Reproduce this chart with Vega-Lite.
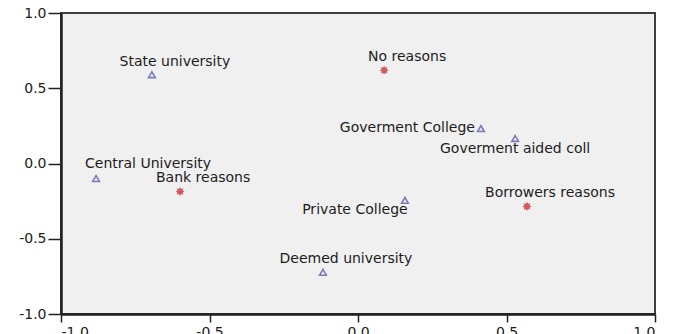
{
  "$schema": "https://vega.github.io/schema/vega-lite/v6.json",
  "width": 594,
  "height": 301,
  "autosize": {"type": "none"},
  "padding": {"left": 61, "top": 13, "right": 30, "bottom": 20},
  "background": "white",
  "config": {
    "view": {"fill": "#f0f0f0", "stroke": "#404040", "strokeWidth": 2},
    "axis": {
      "grid": false,
      "domainColor": "#202020",
      "domainWidth": 2.5,
      "tickColor": "#202020",
      "tickWidth": 1.5,
      "labelFont": "DejaVu Sans",
      "labelFontSize": 14,
      "labelColor": "#202020",
      "title": null
    },
    "text": {"font": "DejaVu Sans", "fontSize": 14, "color": "#1c1c1c"}
  },
  "data": {
    "values": [
      {"name": "State university", "kind": "institution", "d1": -0.694, "d2": 0.59},
      {"name": "Central University", "kind": "institution", "d1": -0.882, "d2": -0.10},
      {"name": "Deemed university", "kind": "institution", "d1": -0.118, "d2": -0.723},
      {"name": "Private College", "kind": "institution", "d1": 0.158, "d2": -0.245},
      {"name": "Goverment College", "kind": "institution", "d1": 0.414, "d2": 0.232},
      {"name": "Goverment aided coll", "kind": "institution", "d1": 0.529, "d2": 0.166},
      {"name": "No reasons", "kind": "reason", "d1": 0.088, "d2": 0.62},
      {"name": "Bank reasons", "kind": "reason", "d1": -0.599, "d2": -0.186},
      {"name": "Borrowers reasons", "kind": "reason", "d1": 0.569, "d2": -0.285}
    ]
  },
  "layer": [
    {
      "transform": [{"filter": {"field": "kind", "equal": "institution"}}],
      "mark": {"type": "point", "shape": "triangle-up", "filled": false, "stroke": "#4a4aa0", "strokeWidth": 1.6, "size": 45},
      "encoding": {
        "x": {
          "field": "d1", "type": "quantitative",
          "scale": {"domain": [-1, 1], "nice": false, "zero": false},
          "axis": {"orient": "bottom", "values": [-1, -0.5, 0, 0.5, 1], "labelExpr": "replace(format(datum.value, '.1f'), '\u2212', '-')", "tickSize": 8, "labelPadding": 3}
        },
        "y": {
          "field": "d2", "type": "quantitative",
          "scale": {"domain": [-1, 1], "nice": false, "zero": false},
          "axis": {"orient": "left", "values": [-1, -0.5, 0, 0.5, 1], "labelExpr": "replace(format(datum.value, '.1f'), '\u2212', '-')", "tickSize": 13, "labelPadding": 2}
        }
      }
    },
    {
      "transform": [{"filter": {"field": "kind", "equal": "reason"}}],
      "mark": {
        "type": "point",
        "shape": "M1,0L0.554,0.23L0.707,0.707L0.23,0.554L0,1L-0.23,0.554L-0.707,0.707L-0.554,0.23L-1,0L-0.554,-0.23L-0.707,-0.707L-0.23,-0.554L0,-1L0.23,-0.554L0.707,-0.707L0.554,-0.23Z",
        "filled": true, "color": "#c41a1e", "size": 85
      },
      "encoding": {
        "x": {"field": "d1", "type": "quantitative"},
        "y": {"field": "d2", "type": "quantitative"}
      }
    },
    {
      "transform": [{"filter": {"field": "name", "oneOf": ["State university", "No reasons", "Deemed university", "Borrowers reasons", "Bank reasons"]}}],
      "mark": {"type": "text", "align": "center", "baseline": "middle", "dx": 23, "dy": -13},
      "encoding": {
        "x": {"field": "d1", "type": "quantitative"},
        "y": {"field": "d2", "type": "quantitative"},
        "text": {"field": "name"}
      }
    },
    {
      "transform": [{"filter": {"field": "name", "equal": "Central University"}}],
      "mark": {"type": "text", "align": "center", "baseline": "middle", "dx": 52, "dy": -15},
      "encoding": {
        "x": {"field": "d1", "type": "quantitative"},
        "y": {"field": "d2", "type": "quantitative"},
        "text": {"field": "name"}
      }
    },
    {
      "transform": [{"filter": {"field": "name", "equal": "Private College"}}],
      "mark": {"type": "text", "align": "center", "baseline": "middle", "dx": -50, "dy": 10},
      "encoding": {
        "x": {"field": "d1", "type": "quantitative"},
        "y": {"field": "d2", "type": "quantitative"},
        "text": {"field": "name"}
      }
    },
    {
      "transform": [{"filter": {"field": "name", "equal": "Goverment College"}}],
      "mark": {"type": "text", "align": "right", "baseline": "middle", "dx": -6, "dy": -1},
      "encoding": {
        "x": {"field": "d1", "type": "quantitative"},
        "y": {"field": "d2", "type": "quantitative"},
        "text": {"field": "name"}
      }
    },
    {
      "transform": [{"filter": {"field": "name", "equal": "Goverment aided coll"}}],
      "mark": {"type": "text", "align": "center", "baseline": "middle", "dx": 0, "dy": 10},
      "encoding": {
        "x": {"field": "d1", "type": "quantitative"},
        "y": {"field": "d2", "type": "quantitative"},
        "text": {"field": "name"}
      }
    }
  ]
}
